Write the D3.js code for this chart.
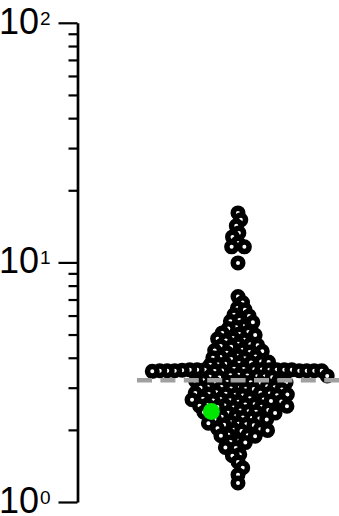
<!DOCTYPE html>
<html><head><meta charset="utf-8">
<script src="https://cdn.jsdelivr.net/npm/d3@7"></script>
<style>html,body{margin:0;padding:0;background:#fff;}svg{display:block;}</style>
</head><body>
<script>
// ---- data ----
const majorTicks = [1, 10, 100];
const majorLabels = ["0", "1", "2"]; // exponents of 10
const minorTicks = [2,3,4,5,6,7,8,9,20,30,40,50,60,70,80,90];
const refLine = 3.22;
const highlightValue = 2.385;
const topValues = [16.09, 15.05, 14.21, 13.28, 12.78, 12.06, 11.61, 11.61, 9.95];
const upperValues = [7.2, 6.8, 6.45, 6.35, 6.05, 5.98, 5.75, 5.68, 5.62, 5.42, 5.36, 5.30,
  5.12, 5.08, 5.02, 4.98, 4.84, 4.80, 4.76, 4.72, 4.58, 4.55, 4.51, 4.48, 4.45,
  4.32, 4.29, 4.26, 4.23, 4.20, 4.08, 4.05, 4.03, 4.00, 3.98, 3.95,
  3.86, 3.84, 3.82, 3.80, 3.78, 3.76, 3.74];
const armValues = [3.60, 3.59, 3.58, 3.57, 3.56, 3.53, 3.56, 3.53, 3.56, 3.53, 3.56, 3.53,
  3.56, 3.53, 3.56, 3.53, 3.56, 3.53, 3.55, 3.54, 3.52, 3.51];
const lowerValues = [3.40, 3.38, 3.37, 3.36, 3.35, 3.34, 3.33, 3.32, 3.31,
  3.22, 3.21, 3.20, 3.19, 3.18, 3.17, 3.16, 3.15, 3.14, 3.13,
  3.04, 3.03, 3.02, 3.01, 3.00, 2.99, 2.98, 2.97, 2.96, 2.95,
  2.87, 2.86, 2.85, 2.84, 2.83, 2.82, 2.81, 2.80, 2.79, 2.78,
  2.71, 2.70, 2.69, 2.68, 2.67, 2.66, 2.65, 2.64, 2.63, 2.62,
  2.56, 2.55, 2.54, 2.53, 2.52, 2.51, 2.50, 2.49, 2.48,
  2.42, 2.41, 2.39, 2.38, 2.37, 2.36, 2.35,
  2.28, 2.27, 2.25, 2.24, 2.23, 2.22, 2.21,
  2.15, 2.13, 2.12, 2.11, 2.10, 2.09,
  2.03, 2.01, 2.00, 1.99, 1.98,
  1.91, 1.90, 1.89, 1.88,
  1.80, 1.78, 1.77,
  1.69, 1.68, 1.58, 1.56, 1.47, 1.39, 1.30, 1.20];

// ---- layout ----
const W = 339, H = 516;
const axisX = 77.5, centerX = 238, dotD = 7.5;
const svg = d3.select("body").append("svg").attr("width", W).attr("height", H);
const y = d3.scaleLog().domain([1, 100]).range([502, 22.8]);

// axis: minor and major ticks
const gMinor = svg.append("g").attr("transform", `translate(${axisX},0)`)
  .call(d3.axisLeft(y).tickValues(minorTicks).tickSize(9).tickSizeOuter(0).tickFormat(""));
const gMajor = svg.append("g").attr("transform", `translate(${axisX},0)`)
  .call(d3.axisLeft(y).tickValues(majorTicks).tickSize(19).tickSizeOuter(0).tickFormat(""));
svg.selectAll(".tick line").attr("stroke", "#000").attr("stroke-width", 2.2);
svg.selectAll(".domain").attr("stroke", "#000").attr("stroke-width", 2.7);
gMinor.select(".domain").remove();

const lab = svg.append("g").attr("font-family", "'Liberation Sans', Arial, sans-serif").attr("fill", "#000");
majorTicks.forEach((t, i) => {
  lab.append("text").attr("x", 39).attr("y", y(t) + 11).attr("text-anchor", "end")
    .attr("font-size", 36).text("10");
  lab.append("text").attr("x", 40).attr("y", y(t) + 2).attr("text-anchor", "start")
    .attr("font-size", 19).text(majorLabels[i]);
});

// beeswarm
const all = [...topValues, ...upperValues, ...armValues, ...lowerValues].map(v => ({v, hi: false}));
all.push({v: highlightValue, hi: true});
function swarm(pts) {
  pts.forEach(p => p.y = y(p.v));
  pts.sort((a, b) => a.y - b.y);
  const placed = [];
  for (const p of pts) {
    const near = placed.filter(q => Math.abs(q.y - p.y) < dotD);
    const cands = [0];
    for (const q of near) {
      const dx = Math.sqrt(dotD * dotD - (q.y - p.y) ** 2);
      cands.push(q.x + dx, q.x - dx);
    }
    cands.sort((a, b) => Math.abs(a) - Math.abs(b));
    for (const c of cands) {
      if (near.every(q => (q.x - c) ** 2 + (q.y - p.y) ** 2 >= dotD * dotD - 1e-6)) { p.x = c; break; }
    }
    placed.push(p);
  }
  return pts;
}
swarm(all);

svg.append("g").selectAll("circle").data(all.filter(d => !d.hi)).join("circle")
  .attr("cx", d => centerX + d.x).attr("cy", d => d.y).attr("r", 4.75)
  .attr("fill", "#fff").attr("stroke", "#000").attr("stroke-width", 5.5);

svg.append("line").attr("x1", 137).attr("x2", W).attr("y1", y(refLine)).attr("y2", y(refLine))
  .attr("stroke", "#a0a0a0").attr("stroke-width", 4.5).attr("stroke-dasharray", "15,8.4");

svg.append("g").selectAll("circle").data(all.filter(d => d.hi)).join("circle")
  .attr("cx", d => centerX + d.x).attr("cy", d => d.y).attr("r", 8.5)
  .attr("fill", "#00e600");
</script>
</body></html>
